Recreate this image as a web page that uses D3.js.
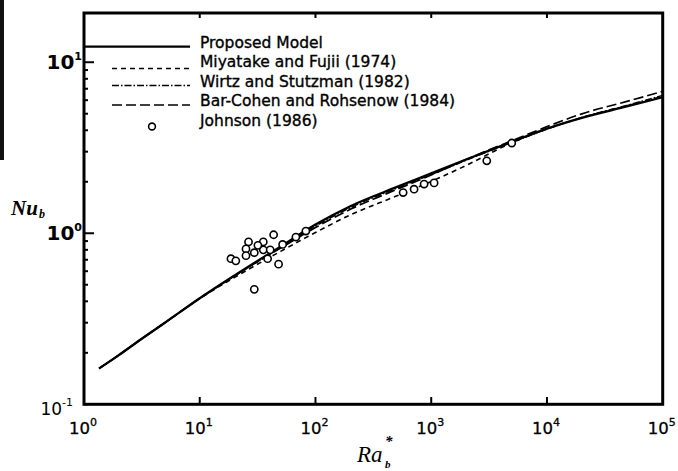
<!DOCTYPE html>
<html>
<head>
<meta charset="utf-8">
<script src="https://cdn.jsdelivr.net/npm/d3@7"></script>
<style>
  body { margin: 0; background: #fff; }
</style>
</head>
<body>
<svg id="chart" width="678" height="471"></svg>
<script>
const raGrid = [1.35, 2, 3, 5, 10, 20, 50, 100, 200, 500, 1000, 2000, 5000, 1e4, 2e4, 5e4, 1e5];
const nuProposed = [0.162, 0.194, 0.236, 0.30, 0.417, 0.567, 0.838, 1.125, 1.44, 1.86, 2.24, 2.70, 3.43, 4.09, 4.73, 5.53, 6.24];
const nuMiyatake = [0.162, 0.194, 0.236, 0.30, 0.415, 0.552, 0.784, 1.01, 1.28, 1.65, 2.01, 2.49, 3.39, 4.07, 4.74, 5.58, 6.32];
const nuWirtz    = [0.162, 0.194, 0.236, 0.30, 0.416, 0.562, 0.825, 1.10, 1.41, 1.83, 2.20, 2.67, 3.40, 4.07, 4.75, 5.62, 6.40];
const nuBarCohen = [0.162, 0.194, 0.236, 0.30, 0.417, 0.565, 0.820, 1.08, 1.38, 1.80, 2.19, 2.70, 3.48, 4.20, 4.99, 5.92, 6.76];

// Johnson (1986) data points
const johnsonRa = [18.6, 20.5, 26.4, 25.1, 25.1, 29.6, 35.4, 35.4, 40.6, 38.6, 43.5, 52.0, 48.0, 29.6, 67.7, 82.6, 31.8, 572, 711, 868, 1059, 3020, 4965];
const johnsonNu = [0.71, 0.69, 0.89, 0.81, 0.74, 0.77, 0.89, 0.80, 0.80, 0.71, 0.98, 0.86, 0.66, 0.47, 0.95, 1.03, 0.85, 1.73, 1.81, 1.94, 1.97, 2.65, 3.37];

const seriesNames = ["Proposed Model", "Miyatake and Fujii (1974)", "Wirtz and Stutzman (1982)", "Bar-Cohen and Rohsenow (1984)", "Johnson (1986)"];
const xTickExp = [0, 1, 2, 3, 4, 5];
const yTickExp = [-1, 0, 1];

const svg = d3.select('#chart');
const x = d3.scaleLog().domain([1, 1e5]).range([84, 662.7]);
const y = d3.scaleLog().domain([0.1, 19.4]).range([404.3, 13]);

// scan edge
svg.append('rect').attr('x', 0).attr('y', 0).attr('width', 4).attr('height', 160).attr('fill', '#111');

// minor ticks on the left axis
const yMinor = [];
for (let e = -1; e <= 1; e++) {
  for (let m = 1; m <= 9; m++) {
    const v = m * Math.pow(10, e);
    if (v >= 0.1 && v <= 19.4) yMinor.push(v);
  }
}
svg.append('g').selectAll('line').data(yMinor).join('line')
  .attr('x1', 84).attr('x2', d => (d === 1 || d === 10) ? 94 : 88)
  .attr('y1', d => y(d)).attr('y2', d => y(d))
  .attr('stroke', '#000').attr('stroke-width', 2);

// decade ticks bottom and top
const xDec = xTickExp.slice(1, -1).map(e => Math.pow(10, e));
svg.append('g').selectAll('line').data(xDec).join('line')
  .attr('x1', d => x(d)).attr('x2', d => x(d))
  .attr('y1', 404).attr('y2', 397)
  .attr('stroke', '#000').attr('stroke-width', 2);
svg.append('g').selectAll('line').data(xDec).join('line')
  .attr('x1', d => x(d)).attr('x2', d => x(d))
  .attr('y1', 13).attr('y2', 18)
  .attr('stroke', '#000').attr('stroke-width', 2);

// frame
svg.append('rect')
  .attr('x', 84).attr('y', 13)
  .attr('width', 662.7 - 84).attr('height', 404.3 - 13)
  .attr('fill', 'none').attr('stroke', '#000').attr('stroke-width', 3);

// x tick labels
const xl = svg.append('g').attr('font-family', 'DejaVu Sans').attr('font-size', 16.5).attr('fill', '#000')
  .attr('stroke', '#000').attr('stroke-width', 0.3);
xTickExp.forEach(e => {
  const t = xl.append('text').attr('x', x(Math.pow(10, e)) - 1).attr('y', 434).attr('text-anchor', 'middle');
  t.append('tspan').text('10');
  t.append('tspan').attr('dy', -8).attr('font-size', 11).text(e);
});

// y tick labels
const yl = svg.append('g').attr('font-family', 'DejaVu Sans').attr('fill', '#000');
yTickExp.forEach(e => {
  const low = e === -1;
  const t = yl.append('text')
    .attr('x', low ? 73 : 82)
    .attr('y', low ? 415 : y(Math.pow(10, e)) + 7)
    .attr('text-anchor', 'end')
    .attr('font-weight', low ? 'normal' : 'bold')
    .attr('font-size', low ? 17 : 20);
  t.append('tspan').text('10');
  t.append('tspan').attr('dy', -9).attr('font-size', 11).text(e);
});

// axis titles
const xt = svg.append('g').attr('font-family', 'Liberation Serif').attr('font-style', 'italic').attr('fill', '#000');
xt.append('text').attr('x', 357).attr('y', 462).attr('font-size', 23).text('Ra');
xt.append('text').attr('x', 385).attr('y', 468).attr('font-size', 11).attr('font-weight', 'bold').text('b');
xt.append('text').attr('x', 385).attr('y', 446).attr('font-size', 15).attr('font-weight', 'bold').text('*');

const yt = svg.append('g').attr('font-family', 'Liberation Serif').attr('font-style', 'italic').attr('font-weight', 'bold').attr('fill', '#000');
yt.append('text').attr('x', 11).attr('y', 215).attr('font-size', 21).text('Nu');
yt.append('text').attr('x', 39).attr('y', 218).attr('font-size', 12).text('b');

// curves
const line = d3.line()
  .x(d => x(d[0]))
  .y(d => y(d[1]))
  .curve(d3.curveMonotoneX);

const curves = [
  { nu: nuMiyatake, dash: '5,4', w: 1.6 },
  { nu: nuWirtz, dash: '7,2,1.5,2', w: 1.4 },
  { nu: nuBarCohen, dash: '10,4', w: 1.7 },
  { nu: nuProposed, dash: null, w: 2.3 }
];
curves.forEach(c => {
  svg.append('path')
    .datum(raGrid.map((r, i) => [r, c.nu[i]]))
    .attr('d', line)
    .attr('fill', 'none')
    .attr('stroke', '#000')
    .attr('stroke-width', c.w)
    .attr('stroke-dasharray', c.dash);
});

// Johnson points
svg.append('g').selectAll('circle')
  .data(johnsonRa.map((r, i) => [r, johnsonNu[i]]))
  .join('circle')
  .attr('cx', d => x(d[0]))
  .attr('cy', d => y(d[1]))
  .attr('r', 3.6)
  .attr('fill', '#fff')
  .attr('stroke', '#000')
  .attr('stroke-width', 1.6);

// legend
const legY = [46.7, 68.5, 85.5, 105, 126.5];
const legBase = [47.5, 66.5, 86.5, 105.5, 126];
const legDash = [null, '5,4', '7,2,1.5,2', '10,4'];
const leg = svg.append('g');
seriesNames.forEach((name, i) => {
  if (i < 4) {
    leg.append('line')
      .attr('x1', i === 0 ? 84 : 112).attr('x2', 190)
      .attr('y1', legY[i]).attr('y2', legY[i])
      .attr('stroke', '#000')
      .attr('stroke-width', i === 0 ? 2.3 : 1.6)
      .attr('stroke-dasharray', legDash[i]);
  } else {
    leg.append('circle')
      .attr('cx', 152).attr('cy', legY[i])
      .attr('r', 3.4)
      .attr('fill', '#fff').attr('stroke', '#000').attr('stroke-width', 1.6);
  }
  leg.append('text')
    .attr('x', 200).attr('y', legBase[i])
    .attr('font-family', 'DejaVu Sans')
    .attr('font-size', 15.5)
    .attr('fill', '#000')
    .attr('stroke', '#000')
    .attr('stroke-width', 0.35)
    .text(name);
});
</script>
</body>
</html>
